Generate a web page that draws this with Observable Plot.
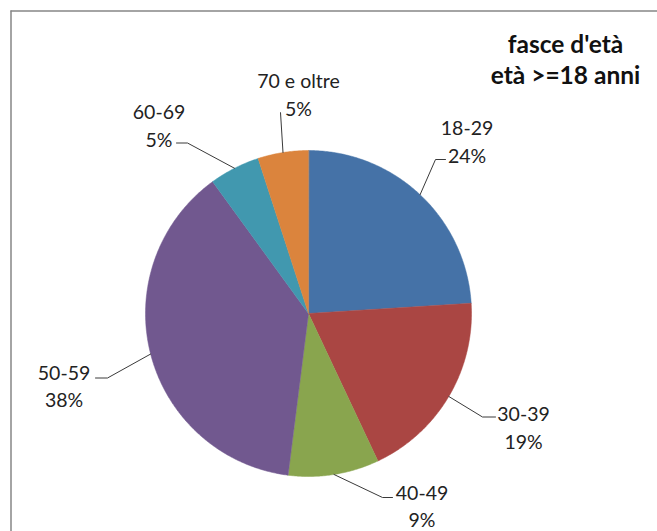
<!DOCTYPE html>
<html>
<head>
<meta charset="utf-8">
<script src="https://cdn.jsdelivr.net/npm/d3@7"></script>
<script src="https://cdn.jsdelivr.net/npm/@observablehq/plot@0.6"></script>
<style>
  html, body { margin: 0; padding: 0; background: #fff; }
  #chart svg { display: block; }
</style>
</head>
<body>
<div id="chart"></div>
<script>
// Age groups and their share of respondents (percent)
const categories = ["18-29", "30-39", "40-49", "50-59", "60-69", "70 e oltre"];
const shares = [24, 19, 9, 38, 5, 5];
const colors = ["#4572A7", "#AA4643", "#89A54E", "#71588F", "#4198AF", "#DB843D"];
const titleLines = ["fasce d'età", "età >=18 anni"];

// Pie geometry (pixels)
const W = 657, H = 531;
const cx = 308, cy = 313, r = 163;

// Label block centres and leader elbows/ends, per category
const labelLayout = [
  {tx: 466.5, ty: 139.5, elbow: [435, 159], end: [445, 159]},
  {tx: 523, ty: 425.5, elbow: [482, 416.5], end: [495, 416.5]},
  {tx: 421.5, ty: 504, elbow: [382, 497], end: [392, 497]},
  {tx: 63.5, ty: 384, elbow: [107, 377.5], end: [95, 377.5]},
  {tx: 158.5, ty: 123.5, elbow: [187, 142.5], end: [176, 142.5]},
  {tx: 298, ty: 92.5, elbow: [280, 112], end: [280, 112]}
];

const arcs = d3.pie().sort(null).value(d => d)(shares);
const pt = (a, rad) => ({x: cx + rad * Math.sin(a), y: cy - rad * Math.cos(a)});

// Polygon outline for each slice
const slices = arcs.map((a, i) => {
  const pts = [{x: cx, y: cy}];
  const n = Math.max(2, Math.ceil((a.endAngle - a.startAngle) / (Math.PI / 360)));
  for (let k = 0; k <= n; ++k) {
    pts.push(pt(a.startAngle + (a.endAngle - a.startAngle) * k / n, r));
  }
  return {category: categories[i], color: colors[i], pts};
});

// Leader lines: from the slice edge at its mid angle to the label
const leaders = arcs.flatMap((a, i) => {
  const mid = (a.startAngle + a.endAngle) / 2;
  const p = pt(mid, r);
  const L = labelLayout[i];
  return [
    {category: categories[i], x: p.x, y: p.y},
    {category: categories[i], x: L.elbow[0], y: L.elbow[1]},
    {category: categories[i], x: L.end[0], y: L.end[1]}
  ];
});

const labels = categories.map((c, i) => ({
  x: labelLayout[i].tx,
  y: labelLayout[i].ty,
  text: `${c}\n${shares[i]}%`
}));

const font = "Lato, 'Open Sans', sans-serif";

const chart = Plot.plot({
  width: W,
  height: H,
  margin: 0,
  x: {domain: [0, W], range: [0, W], axis: null},
  y: {domain: [0, H], range: [0, H], axis: null},
  style: {background: "#fff", fontFamily: font},
  marks: [
    Plot.ruleY([10.5], {x1: 10.5, x2: W, stroke: "#868686", strokeWidth: 1.5}),
    Plot.ruleX([10.5], {y1: 10.5, y2: H, stroke: "#868686", strokeWidth: 1.5}),
    ...slices.map(s => Plot.line(s.pts, {
      x: "x", y: "y", curve: "linear-closed",
      fill: s.color, stroke: s.color, strokeWidth: 0.5
    })),
    Plot.line(leaders, {x: "x", y: "y", z: "category", stroke: "#3a3a3a", strokeWidth: 1}),
    Plot.text(labels, {
      x: "x", y: "y", text: "text",
      fontSize: 19.5, lineHeight: 1.41, textAnchor: "middle",
      fill: "#222", fontFamily: font
    }),
    Plot.text([titleLines.join("\n")], {
      x: () => 565, y: () => 58.5, text: d => d,
      fontSize: 24.5, fontWeight: "bold", lineHeight: 1.26,
      textAnchor: "middle", fill: "#111", fontFamily: font
    })
  ]
});

document.getElementById("chart").appendChild(chart);
</script>
</body>
</html>
